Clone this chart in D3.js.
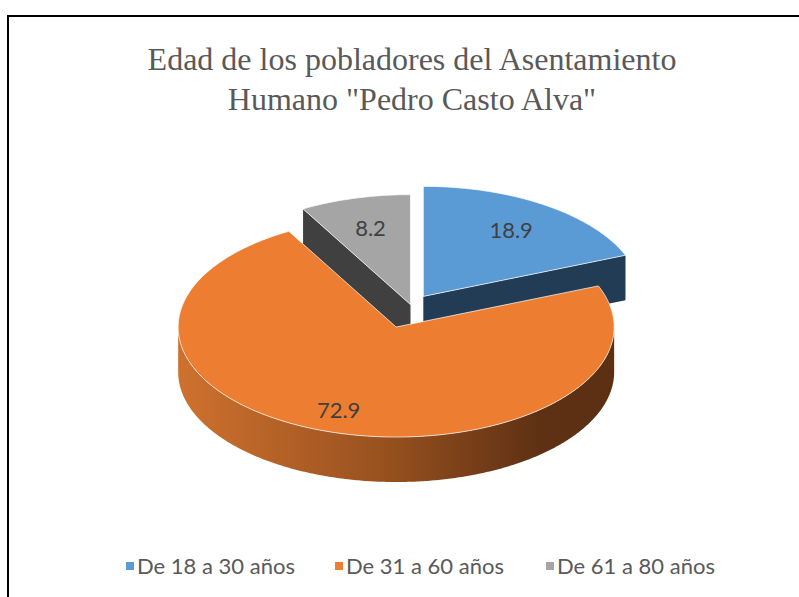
<!DOCTYPE html>
<html>
<head>
<meta charset="utf-8">
<script src="https://cdn.jsdelivr.net/npm/d3@7"></script>
<style>
  html, body { margin: 0; padding: 0; background: #fff; }
  svg { display: block; }
</style>
</head>
<body>
<svg id="chart" width="799" height="597"></svg>
<script>
// ---- data ----
const categories = ["De 18 a 30 años", "De 31 a 60 años", "De 61 a 80 años"];
const values = [18.9, 72.9, 8.2];
const valueLabels = ["18.9", "72.9", "8.2"];
const titleLines = ["Edad de los pobladores del Asentamiento", "Humano \"Pedro Casto Alva\""];

// ---- styles ----
const topColors = ["#5b9bd5", "#ed7d31", "#a5a5a5"];
const cutColors = ["#223c56", "#8a4418", "#404040"];
const explode = [22, 45, 2];
const labelFrac = [0.72, 0.8, 0.72];

const W = 799, H = 597;
const svg = d3.select("#chart");
const defs = svg.append("defs");

// border (frame extends past right/bottom)
svg.append("rect").attr("x", 8).attr("y", 16).attr("width", 900).attr("height", 900)
  .attr("fill", "none").attr("stroke", "#000").attr("stroke-width", 2);

// title
svg.append("g").selectAll("text").data(titleLines).join("text")
  .attr("x", 412).attr("y", (d, i) => 70 + i * 40)
  .attr("text-anchor", "middle")
  .attr("font-family", "'Liberation Serif', 'Times New Roman', serif")
  .attr("font-size", 32).attr("fill", "#595959")
  .text(d => d);

// ---- 3D pie geometry ----
const cx = 411, cy = 305.6, rx = 218, ry = 110, depth = 45;
const pie = d3.pie().sort(null).value(d => d).startAngle(0).endAngle(2 * Math.PI);
const arcs = pie(values);

// projection helper: angle clockwise from 12 o'clock
function proj(c, a, r, dz) {
  return [c[0] + r * rx * Math.sin(a), c[1] - r * ry * Math.cos(a) + (dz || 0)];
}
function arcPoints(c, a0, a1, dz) {
  const n = Math.max(2, Math.ceil((a1 - a0) / 0.01));
  const pts = [];
  for (let i = 0; i <= n; i++) pts.push(proj(c, a0 + (a1 - a0) * i / n, 1, dz));
  return pts;
}
const line = d3.line();

const slices = arcs.map((d, i) => {
  const mid = (d.startAngle + d.endAngle) / 2;
  const c = [cx + explode[i] * Math.sin(mid), cy - explode[i] * (ry / rx) * Math.cos(mid)];
  return { d, i, mid, c };
});

// gradient for orange wall
const grad = defs.append("linearGradient").attr("id", "wallOrange")
  .attr("gradientUnits", "userSpaceOnUse")
  .attr("x1", cx - rx - 20).attr("x2", cx + rx).attr("y1", 0).attr("y2", 0);
grad.append("stop").attr("offset", "0%").attr("stop-color", "#d0722f");
grad.append("stop").attr("offset", "45%").attr("stop-color", "#9a521f");
grad.append("stop").attr("offset", "80%").attr("stop-color", "#5f3114");
grad.append("stop").attr("offset", "100%").attr("stop-color", "#5a2f13");

const gSides = svg.append("g");
const gTops = svg.append("g");

const order = slices.slice().sort((a, b) => a.c[1] - b.c[1]);

order.forEach(s => {
  const { d, i, c } = s;
  const a0 = d.startAngle, a1 = d.endAngle;
  const faces = [];
  if (Math.cos(a0 - Math.PI / 2) < -1e-6) faces.push(a0);
  if (Math.cos(a1 + Math.PI / 2) < -1e-6) faces.push(a1);
  faces.forEach(a => {
    const p = proj(c, a, 1, 0), pb = proj(c, a, 1, depth);
    const pts = [c, p, pb, [c[0], c[1] + depth]];
    gSides.append("path").attr("d", line(pts) + "Z").attr("fill", cutColors[i]);
  });
  const w0 = Math.max(a0, Math.PI / 2), w1 = Math.min(a1, 3 * Math.PI / 2);
  if (w1 > w0) {
    const top = arcPoints(c, w0, w1, 0);
    const bot = arcPoints(c, w0, w1, depth).reverse();
    gSides.append("path").attr("d", line(top.concat(bot)) + "Z")
      .attr("fill", i === 1 ? "url(#wallOrange)" : cutColors[i]);
  }
});

order.forEach(s => {
  const { d, i, c } = s;
  const pts = [c].concat(arcPoints(c, d.startAngle, d.endAngle, 0));
  gTops.append("path").attr("d", line(pts) + "Z")
    .attr("fill", topColors[i]).attr("stroke", "#ffffff").attr("stroke-opacity", 0.7)
    .attr("stroke-width", 1).attr("stroke-linejoin", "round");
});

// value labels
svg.append("g").selectAll("text").data(slices).join("text")
  .attr("x", s => proj(s.c, s.mid, labelFrac[s.i])[0])
  .attr("y", s => proj(s.c, s.mid, labelFrac[s.i])[1])
  .attr("dy", "0.35em")
  .attr("text-anchor", "middle")
  .attr("font-family", "Lato, 'Open Sans', sans-serif")
  .attr("font-size", 22).attr("fill", "#404040")
  .text(s => valueLabels[s.i]);

// legend
const legendX = [126, 335, 546];
const lg = svg.append("g").selectAll("g").data(categories).join("g")
  .attr("transform", (d, i) => `translate(${legendX[i]},574)`);
lg.append("rect").attr("x", 0).attr("y", -12).attr("width", 8).attr("height", 8)
  .attr("fill", (d, i) => topColors[i]);
lg.append("text").attr("x", 11).attr("y", 0)
  .attr("font-family", "Lato, 'Open Sans', sans-serif")
  .attr("font-size", 22).attr("fill", "#595959")
  .text(d => d);
</script>
</body>
</html>
